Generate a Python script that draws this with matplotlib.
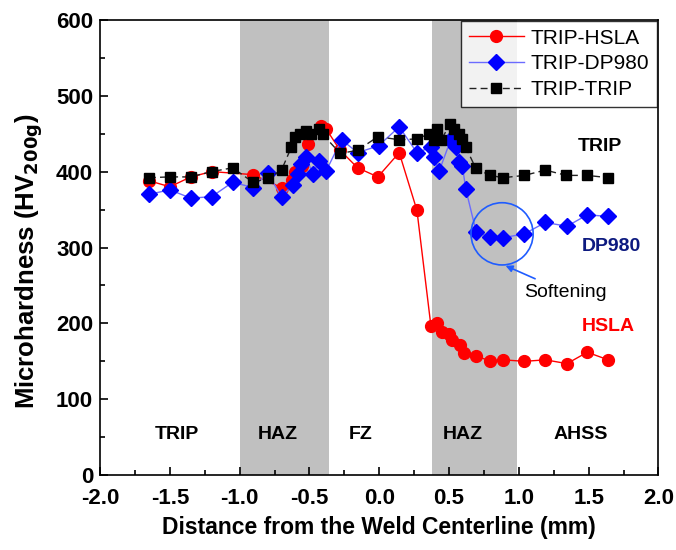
import matplotlib.pyplot as plt
from matplotlib.patches import Ellipse
from matplotlib.ticker import MultipleLocator

plt.rcParams['font.family'] = ['Liberation Sans', 'DejaVu Sans']

# hardness traverse
hsla_x = [-1.65, -1.5, -1.35, -1.2, -0.905, -0.70, -0.626, -0.6, -0.55, -0.51, -0.42, -0.38,
          -0.28, -0.155, -0.01, 0.143, 0.27, 0.37, 0.417, 0.45, 0.5, 0.52, 0.58, 0.607,
          0.69, 0.79, 0.89, 1.04, 1.19, 1.345, 1.49, 1.64]
hsla_y = [388, 380, 393, 400, 396, 379, 389, 400, 408, 436, 460, 456,
          428, 405, 393, 425, 349, 197, 200, 189, 186, 178, 171, 161,
          157, 151, 152, 150, 152, 147, 162, 152]

dp_x = [-1.65, -1.5, -1.35, -1.2, -1.05, -0.905, -0.8, -0.70, -0.62, -0.58, -0.56, -0.524,
        -0.476, -0.43, -0.38, -0.27, -0.155, -0.005, 0.143, 0.27, 0.37, 0.39, 0.43, 0.51,
        0.55, 0.57, 0.595, 0.62, 0.695, 0.79, 0.89, 1.04, 1.19, 1.345, 1.49, 1.64]
dp_y = [370, 376, 365, 367, 386, 379, 398, 367, 382, 397, 410, 419,
        397, 414, 401, 442, 425, 434, 459, 425, 432, 419, 401, 441,
        432, 412, 408, 377, 320, 314, 313, 318, 333, 328, 343, 341]

trip_x = [-1.65, -1.5, -1.35, -1.2, -1.05, -0.905, -0.8, -0.70, -0.63, -0.607, -0.571, -0.524,
          -0.488, -0.43, -0.405, -0.28, -0.155, -0.01, 0.143, 0.27, 0.36, 0.39, 0.417, 0.44,
          0.51, 0.536, 0.571, 0.595, 0.62, 0.69, 0.79, 0.89, 1.04, 1.19, 1.34, 1.49, 1.64]
trip_y = [392, 393, 393, 400, 405, 386, 391, 402, 432, 445, 450, 454,
          450, 456, 449, 424, 428, 446, 442, 443, 450, 441, 456, 441,
          463, 456, 450, 443, 432, 405, 395, 392, 395, 402, 395, 395, 392]

haz_zones = [(-1.0, -0.36), (0.375, 0.99)]
zone_names = ['TRIP', 'HAZ', 'FZ', 'HAZ', 'AHSS']
zone_x = [-1.45, -0.73, -0.13, 0.60, 1.44]

fig = plt.figure(figsize=(6.76, 5.5), dpi=100)
ax = fig.add_axes([0.148, 0.136, 0.826, 0.828])

for a, b in haz_zones:
    ax.axvspan(a, b, color='#c0c0c0', lw=0, zorder=0)

ax.plot(hsla_x, hsla_y, '-o', color='red', lw=1, ms=8.5, label='TRIP-HSLA', zorder=3)
ax.plot(dp_x, dp_y, '-D', color='#6b6bff', mfc='blue', mec='blue', lw=1, ms=8,
        label='TRIP-DP980', zorder=4)
ax.plot(trip_x, trip_y, 's', ls=(0, (5, 3)), color='#222222', mfc='black', mec='black',
        lw=1, ms=7, label='TRIP-TRIP', zorder=5)

for name, x in zip(zone_names, zone_x):
    ax.text(x, 53, name, ha='center', va='center', fontsize=14, fontweight='bold')

ax.text(1.58, 433, 'TRIP', ha='center', va='center', fontsize=14, fontweight='bold')
ax.text(1.66, 301, 'DP980', ha='center', va='center', fontsize=14, fontweight='bold', color='#0d1a80')
ax.text(1.64, 196, 'HSLA', ha='center', va='center', fontsize=14, fontweight='bold', color='red')

# softening circle + arrow
ax.add_patch(Ellipse((0.88, 318), 0.445, 82, fill=False, ec='#1f5cff', lw=1.2, zorder=6))
ax.annotate('Softening', xy=(0.905, 276), xytext=(1.04, 241), fontsize=14,
            va='center', ha='left',
            arrowprops=dict(arrowstyle='-|>', color='#1f5cff', lw=1.2,
                            shrinkA=4, shrinkB=0, mutation_scale=10))

ax.set_xlim(-2.0, 2.0)
ax.set_ylim(0, 600)
ax.xaxis.set_major_locator(MultipleLocator(0.5))
ax.xaxis.set_minor_locator(MultipleLocator(0.25))
ax.yaxis.set_major_locator(MultipleLocator(100))
ax.yaxis.set_minor_locator(MultipleLocator(50))
ax.tick_params(which='both', direction='in', labelsize=16)
ax.tick_params(which='major', length=6, width=1.2)
ax.tick_params(which='minor', length=3.5, width=1.2)
ax.tick_params(axis='x', which='major', pad=9)
ax.tick_params(axis='y', which='major', pad=5)
for lab in ax.get_xticklabels() + ax.get_yticklabels():
    lab.set_fontweight('bold')
ax.xaxis.set_major_formatter(lambda v, p: f'{v:.1f}')
for s in ax.spines.values():
    s.set_linewidth(1.2)

ax.set_xlabel('Distance from the Weld Centerline (mm)', fontsize=16.5, fontweight='bold', labelpad=5)
ax.set_ylabel(r'Microhardness (HV$_{\mathbf{200g}}$)', fontsize=18.5, fontweight='bold')
ax.yaxis.set_label_coords(-0.098, 0.47)

leg = ax.legend(loc='upper right', fontsize=15, frameon=True, fancybox=False, edgecolor='black',
                borderaxespad=0.05, handlelength=2.6, handletextpad=0.35, labelspacing=0.32,
                borderpad=0.38)
leg.get_frame().set_linewidth(1.0)

fig.savefig('out.png', dpi=100)
